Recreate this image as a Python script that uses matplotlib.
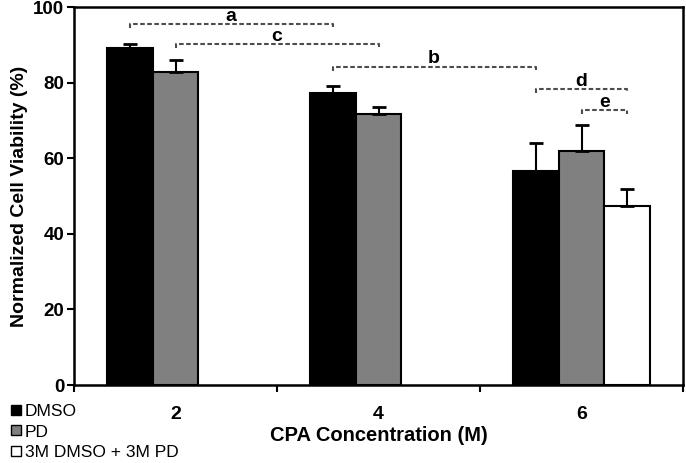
import matplotlib
matplotlib.use('Agg')
import matplotlib.pyplot as plt
from matplotlib.lines import Line2D
import numpy as np

plt.rcParams['font.family'] = ['Liberation Sans', 'DejaVu Sans']

concs = ['2', '4', '6']
dmso = [89.2, 77.3, 56.7]
dmso_err = [1.1, 1.7, 7.4]
pd_vals = [82.9, 71.6, 61.9]
pd_err = [3.0, 2.0, 6.8]
mix = [np.nan, np.nan, 47.4]
mix_err = [np.nan, np.nan, 4.5]

# significance brackets: (label, group1, bar1, group2, bar2, height)
brackets = [('a', 0, 0, 1, 0, 95.5),
            ('c', 0, 1, 1, 1, 90.2),
            ('b', 1, 0, 2, 0, 84.2),
            ('d', 2, 0, 2, 2, 78.3),
            ('e', 2, 1, 2, 2, 72.8)]

fig = plt.figure(figsize=(6.86, 4.63), dpi=100)
ax = fig.add_axes([74/686, 1-385/463, (683-74)/686, (385-7)/463])

x = np.arange(len(concs))
w = 0.226
err_kw = dict(ecolor='black', capsize=5, capthick=2, elinewidth=1.5)
lo = [0, 0, 0]
ax.bar(x - w, dmso, w, color='black', edgecolor='black', linewidth=1.5,
       yerr=[lo, dmso_err], error_kw=err_kw, label='DMSO', zorder=2)
ax.bar(x, pd_vals, w, color='#808080', edgecolor='black', linewidth=1.5,
       yerr=[lo, pd_err], error_kw=err_kw, label='PD', zorder=2)
ax.bar(x + w, mix, w, color='white', edgecolor='black', linewidth=1.5,
       yerr=[lo, mix_err], error_kw=err_kw, label='3M DMSO + 3M PD', zorder=2)

for lab, g1, b1, g2, b2, h in brackets:
    x1 = x[g1] + (b1 - 1) * w
    x2 = x[g2] + (b2 - 1) * w
    ax.plot([x1, x1, x2, x2], [h - 1.1, h, h, h - 1.1], color='#4d4d4d',
            lw=1.5, ls=(0, (2.2, 1.2)), zorder=3)
    ax.text((x1 + x2) / 2, h - 0.2, lab, ha='center', va='bottom',
            fontsize=14, fontweight='bold')

ax.set_xlim(-0.5, 2.5)
ax.set_ylim(0, 100)
ax.set_yticks([0, 20, 40, 60, 80, 100])
ax.set_xticks([-0.5, 0.5, 1.5, 2.5])
ax.set_xticklabels([])
ax.set_xticks(x, concs, minor=True)
ax.tick_params(axis='x', which='minor', length=0, pad=15)
ax.tick_params(axis='x', which='major', length=5, width=1.5, direction='out')
ax.tick_params(axis='y', length=5, width=1.5, direction='out', pad=2)
for t in ax.get_xticklabels(minor=True):
    t.set_fontsize(14)
    t.set_fontweight('bold')
for t in ax.get_yticklabels():
    t.set_fontsize(13.5)
    t.set_fontweight('bold')
for s in ax.spines.values():
    s.set_linewidth(1.8)

ax.set_xlabel('CPA Concentration (M)', fontsize=14.5, fontweight='bold', labelpad=2)
ax.set_ylabel('Normalized Cell Viability (%)', fontsize=14, fontweight='bold', labelpad=4)

handles = [Line2D([], [], marker='s', ls='none', markersize=7, markerfacecolor=c,
                  markeredgecolor='black', markeredgewidth=1)
           for c in ['black', '#808080', 'white']]
fig.legend(handles, ['DMSO', 'PD', '3M DMSO + 3M PD'], loc='upper left',
           bbox_to_anchor=(0.016, 1 - 404/463), frameon=False, fontsize=12.5,
           handlelength=0.6, handletextpad=0.2, labelspacing=0.3,
           borderpad=0, borderaxespad=0)

fig.savefig('out.png', dpi=100)
